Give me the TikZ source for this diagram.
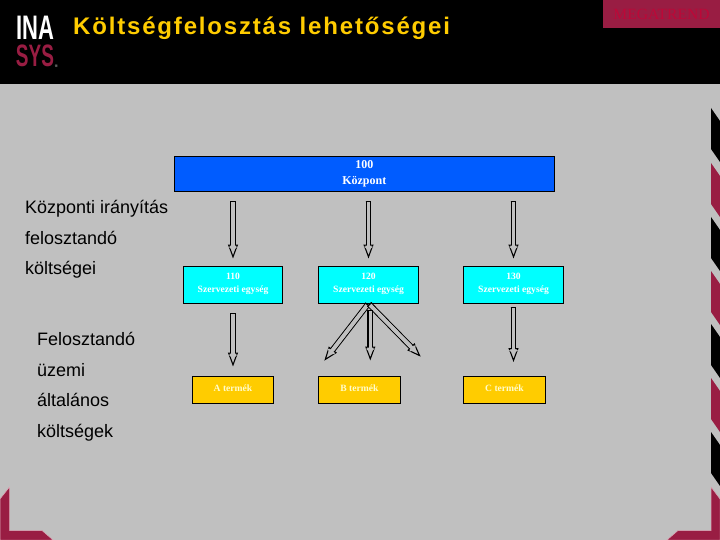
\documentclass[tikz,border=0pt]{standalone}
\usepackage{fontspec}
\setmainfont{Liberation Serif}
\setsansfont{Liberation Sans}
\usetikzlibrary{positioning}
\usetikzlibrary{calc}
\usetikzlibrary{arrows.meta}
\definecolor{slidegray}{HTML}{C0C0C0}
\definecolor{maroonbar}{HTML}{991D43}
\definecolor{fringe}{HTML}{DDAAB8}
\definecolor{boxblue}{HTML}{005CFF}
\definecolor{boxcyan}{HTML}{00FFFF}
\definecolor{boxyellow}{HTML}{FFCC00}
\definecolor{buttontext}{HTML}{BC0838}

\begin{document}
\begin{tikzpicture}[
x=1pt,y=-1pt,
unitbox/.style={
    rectangle,
    draw=black,
    line width=1pt,
    text=white,
    align=center,
    font=\bfseries\fontsize{9.6}{13}\selectfont,
    inner sep=0pt,
    outer sep=0pt,
},
productbox/.style={
    unitbox,
    fill=boxyellow,
    text=yellow!20,
    minimum width=82pt,
    minimum height=27pt,
    text depth=4pt,
},
holarrow/.style={
    double=slidegray,
    double distance=3.6pt,
    line width=1.1pt,
    {Bar[width=5.8pt,line width=1.1pt]}-{Triangle[open,length=14pt,width=10pt,line width=1.1pt]},
    postaction={draw=slidegray, line width=3.6pt, {Bar[width=5.8pt,line width=1.1pt,black]}-{Triangle[length=12pt,width=3.6pt,slidegray]}},
},
sidetext/.style={
    anchor=north west,
    align=left,
    inner sep=0pt,
    font=\sffamily\fontsize{18}{30.6}\selectfont,
},
]
\useasboundingbox (0,0) rectangle (720,540);

% background
\fill[black] (0,0) rectangle (720,84);
\fill[slidegray] (0,84) rectangle (720,540);

% border on the right
\foreach \ytop/\col in {108/black,163/maroonbar,217/black,271/maroonbar,324/black,378/maroonbar,432/black}
    \fill[\col] (711,\ytop) -- (720,\ytop+13) -- (720,\ytop+54) -- (711,\ytop+41) -- cycle;
\filldraw[fill=maroonbar,draw=fringe,line width=0.5pt] (720,499) -- (711,487) -- (711,530.5) -- (678,530.5) -- (667,540) -- (720,540) -- cycle;
\filldraw[fill=maroonbar,draw=fringe,line width=0.5pt] (0,499) -- (9.5,487) -- (9.5,530.5) -- (42,530.5) -- (53,540) -- (0,540) -- cycle;

% header
\node[anchor=west, inner sep=0pt, text=boxyellow, font=\sffamily\bfseries\fontsize{24}{24}\selectfont] (title) at (73,28) {\addfontfeature{LetterSpace=7.6}Költségfelosztás lehetőségei};
\node[rectangle, fill=maroonbar, minimum width=117pt, minimum height=28pt, inner sep=0pt, text=buttontext, font=\fontsize{15.6}{15.6}\selectfont] (button) at (661.5,14) {MEGATREND};

% logo
\node[anchor=south, inner sep=0pt, text=white, font=\sffamily\bfseries] (logotop) at (35,40) {\scalebox{2.2}[3.4]{INA}};
\node[anchor=north, inner sep=0pt, text=maroonbar, font=\sffamily\bfseries] (logobottom) at (35,44.5) {\scalebox{1.9}[3.1]{SYS}};
\node[inner sep=0pt, text=white, font=\fontsize{4}{4}\selectfont] (logomark) at (56.5,66) {®};

% side texts
\node[sidetext] (central) at (25,200) {Központi irányítás\\felosztandó\\költségei};
\node[sidetext] (plant) at (37,332) {Felosztandó\\üzemi\\általános\\költségek};

% boxes
\node[unitbox, fill=boxblue, minimum width=379.5pt, minimum height=35.5pt, font=\bfseries\fontsize{12}{16}\selectfont] (n100) at (364.25,174.25) {100\\Központ};
\node[unitbox, fill=boxcyan, minimum width=99pt, minimum height=37pt, text depth=4pt] (n110) at (233,285) {110\\Szervezeti egység};
\node[unitbox, fill=boxcyan, minimum width=100pt, minimum height=37pt, text depth=4pt] (n120) at (368.5,285) {120\\Szervezeti egység};
\node[unitbox, fill=boxcyan, minimum width=100pt, minimum height=37pt, text depth=4pt] (n130) at (513.5,285) {130\\Szervezeti egység};
\node[productbox, minimum width=80.5pt] (nA) at (233,390) {A termék};
\node[productbox] (nB) at (359.5,390) {B termék};
\node[productbox] (nC) at (504.5,390) {C termék};

\coordinate (tipleft) at (324.3,360.7);
\coordinate (tipright) at (420.7,356.7);

% arrows
\draw[holarrow, shorten <=9pt, shorten >=8pt] (n110.north |- n100.south) -- (n110.north);
\draw[holarrow, shorten <=9pt, shorten >=8pt] (n120.north |- n100.south) -- (n120.north);
\draw[holarrow, shorten <=9pt, shorten >=8pt] (n130.north |- n100.south) -- (n130.north);
\draw[holarrow, shorten <=9pt, shorten >=10pt] (n110.south) -- (n110.south |- nA.north);
\draw[holarrow, shorten <=1pt] (n120.south) -- (tipleft);
\draw[holarrow, shorten <=1pt] (n120.south) -- (tipright);
\draw[holarrow, shorten <=6.5pt, shorten >=16pt] ($(n120.south)+(1.8,0)$) -- ($(n120.south |- nB.north)+(1.8,0)$);
\draw[holarrow, shorten <=3.5pt, shorten >=14.5pt] (n130.south) -- (n130.south |- nC.north);

\end{tikzpicture}
\end{document}
